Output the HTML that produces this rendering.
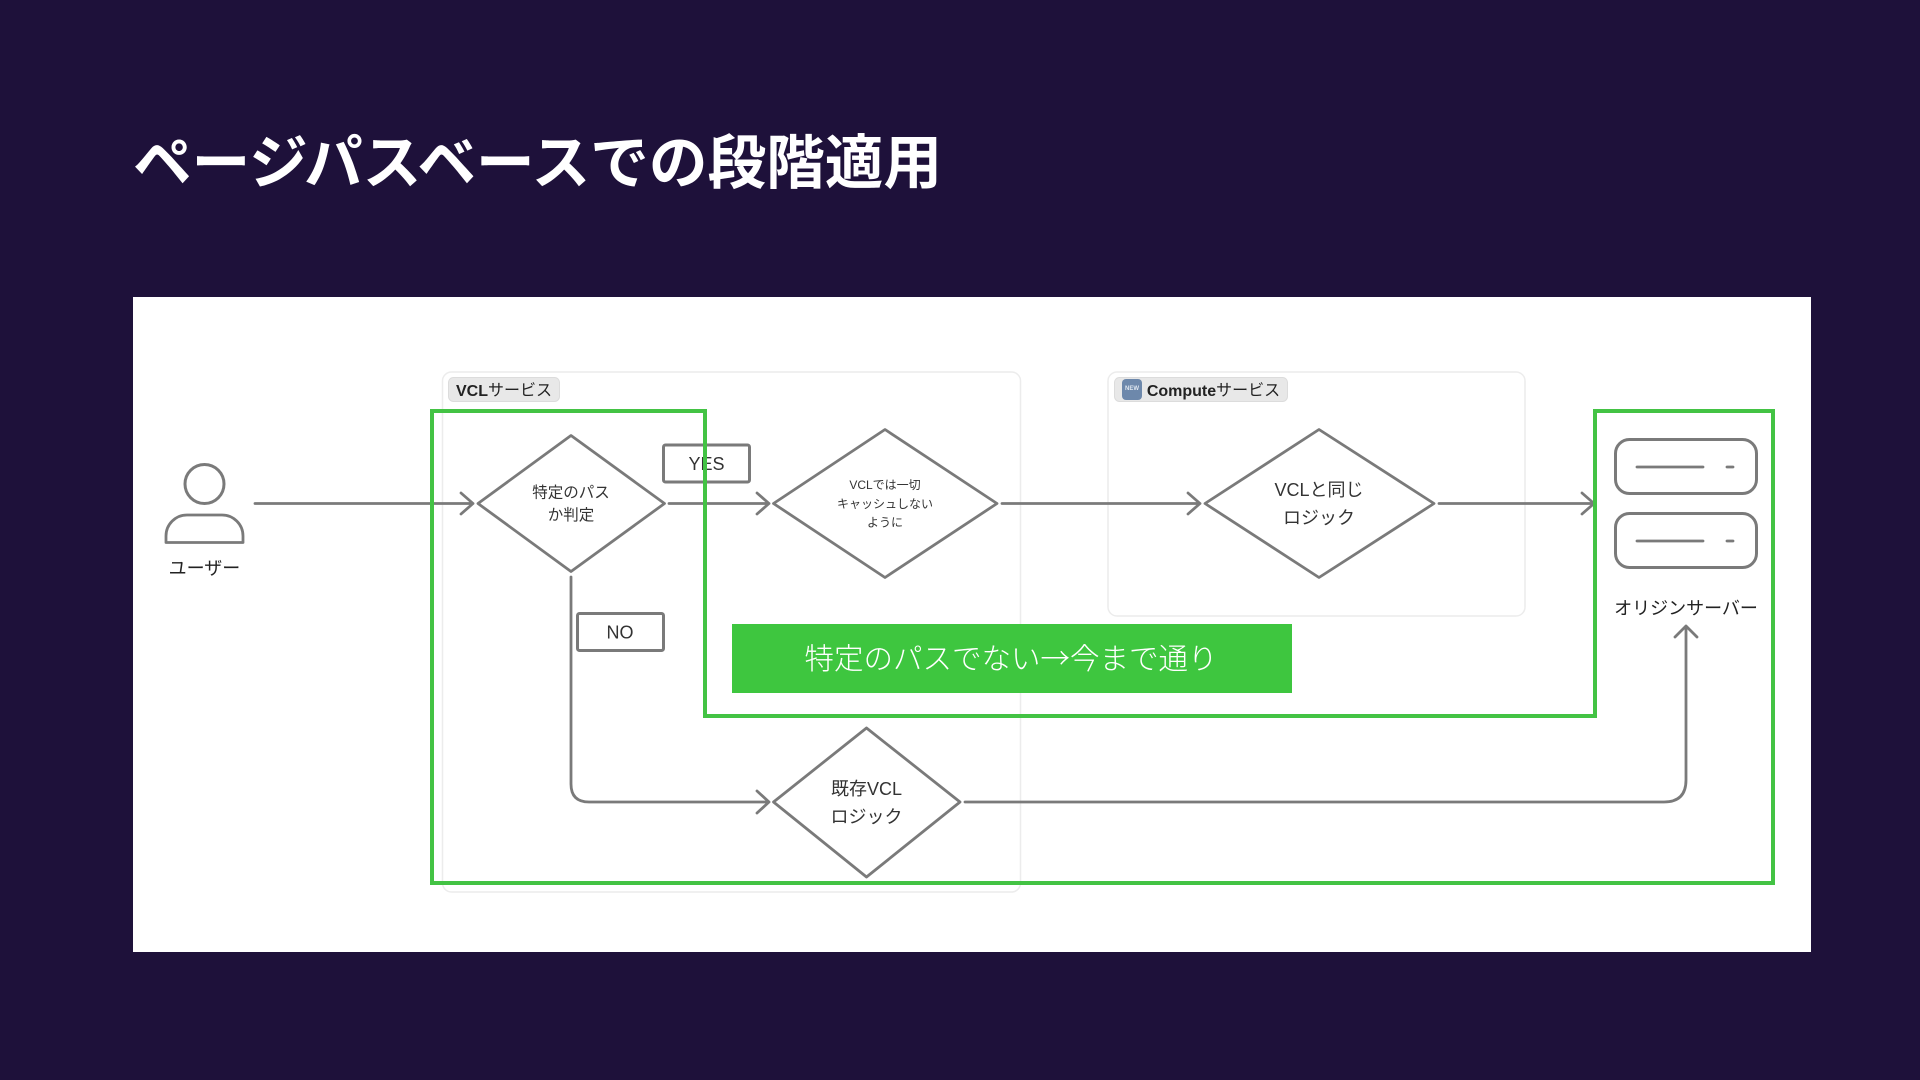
<!DOCTYPE html>
<html lang="ja"><head><meta charset="utf-8"><title>ページパスベースでの段階適用</title>
<style>
html,body{margin:0;padding:0;width:1920px;height:1080px;overflow:hidden;background:#1e113a}
svg{display:block}
text{font-family:"Liberation Sans","Noto Sans CJK JP",sans-serif;fill:#333;text-anchor:middle;dominant-baseline:central}
.j{font-family:"Noto Sans CJK JP",sans-serif}
.s{fill:none;stroke:#7a7a7a;stroke-width:2.800;stroke-linejoin:round;stroke-linecap:round}
.d{fill:#fff;stroke:#7a7a7a;stroke-width:2.800;stroke-linejoin:round}
</style></head><body>
<svg width="1920" height="1080" viewBox="0 0 1920 1080" xmlns="http://www.w3.org/2000/svg">
<rect width="1920" height="1080" fill="#1e113a"/>
<text class="j" x="133" y="158" font-size="59" font-weight="700" style="fill:#fff;text-anchor:start" textLength="809" lengthAdjust="spacingAndGlyphs">ページパスベースでの段階適用</text>
<rect x="133" y="297" width="1678" height="655" fill="#fff"/>

<rect x="442.500" y="372" width="578" height="520" rx="9" fill="#fff" stroke="#ececec" stroke-width="1.500"/>
<rect x="1108" y="372" width="417" height="244" rx="9" fill="#fff" stroke="#ececec" stroke-width="1.500"/>
<rect x="448.500" y="377.500" width="111" height="24" rx="5" fill="#e8e8e8" stroke="#dcdcdc"/>
<text x="504" y="391" font-size="16" style="fill:#222"><tspan font-weight="700">VCL</tspan>サービス</text>
<rect x="1114.500" y="377.500" width="173" height="24" rx="5" fill="#e8e8e8" stroke="#dcdcdc"/>
<rect x="1122" y="379" width="20" height="21" rx="4" fill="#6d88ab"/>
<text x="1132" y="389" font-size="6" font-weight="700" style="fill:#dfe7f0">NEW</text>
<text x="1213.500" y="391" font-size="16" style="fill:#222"><tspan font-weight="700">Compute</tspan>サービス</text>

<!-- user -->
<circle cx="204.500" cy="484" r="19.500" fill="none" stroke="#7a7a7a" stroke-width="3"/>
<path class="s" d="M166 542.500V536A21 21 0 0 1 187 515H222A21 21 0 0 1 243 536V542.500Z"/>
<text class="j" x="204.500" y="567.500" font-size="18" style="fill:#222">ユーザー</text>

<!-- connectors -->
<path class="s" d="M255 503.500H473M461 493L473 503.500L461 514"/>
<path class="s" d="M669 503.500H769M757 493L769 503.500L757 514"/>
<path class="s" d="M1002 503.500H1200M1188 493L1200 503.500L1188 514"/>
<path class="s" d="M1439 503.500H1594M1582 493L1594 503.500L1582 514"/>
<path class="s" d="M571 577V784Q571 802 589 802H769M757 791L769 802L757 813"/>
<path class="s" d="M965 802H1664Q1686 802 1686 780V626M1675 637L1686 626L1697 637"/>

<!-- diamonds -->
<path class="d" d="M571 435.500L664.500 503.500L571 571.500L478 503.500Z"/>
<text class="j" x="571" y="491.500" font-size="15.500">特定のパス</text>
<text class="j" x="571" y="514" font-size="15.500">か判定</text>
<path class="d" d="M885 429.500L997 503.500L885 577.500L773.500 503.500Z"/>
<text x="885" y="485" font-size="12">VCLでは一切</text>
<text class="j" x="885" y="503.500" font-size="12">キャッシュしない</text>
<text class="j" x="885" y="522" font-size="12">ように</text>
<path class="d" d="M1319 429.500L1434 503.500L1319 577.500L1205 503.500Z"/>
<text x="1319" y="490" font-size="18">VCLと同じ</text>
<text class="j" x="1319" y="517" font-size="18">ロジック</text>
<path class="d" d="M866.500 728L960 802L866.500 877L773.500 802Z"/>
<text x="866.500" y="789" font-size="18">既存VCL</text>
<text class="j" x="866.500" y="816" font-size="18">ロジック</text>

<!-- labels -->
<rect x="663.500" y="445" width="86" height="37" rx="2" fill="#fff" stroke="#7a7a7a" stroke-width="3"/>
<text x="706.500" y="464" font-size="18">YES</text>
<rect x="577.500" y="613.500" width="86" height="37" rx="2" fill="#fff" stroke="#7a7a7a" stroke-width="3"/>
<text x="620" y="632.500" font-size="18">NO</text>

<!-- servers -->
<rect x="1615.500" y="439.500" width="141" height="54" rx="14" fill="none" stroke="#7a7a7a" stroke-width="3"/>
<path class="s" d="M1637 467H1703M1727 467H1733"/>
<rect x="1615.500" y="513.500" width="141" height="54" rx="14" fill="none" stroke="#7a7a7a" stroke-width="3"/>
<path class="s" d="M1637 541H1703M1727 541H1733"/>
<text class="j" x="1686" y="607.500" font-size="18" style="fill:#222">オリジンサーバー</text>

<!-- green overlay -->
<path d="M432 411H705V716H1595V411H1773V883H432Z" fill="none" stroke="#43c344" stroke-width="4"/>
<rect x="732" y="624" width="560" height="69" fill="#3ec63f"/>
<text class="j" x="1011" y="657" font-size="29.500" font-weight="300" style="fill:#fff">特定のパスでない→今まで通り</text>
</svg>
</body></html>
